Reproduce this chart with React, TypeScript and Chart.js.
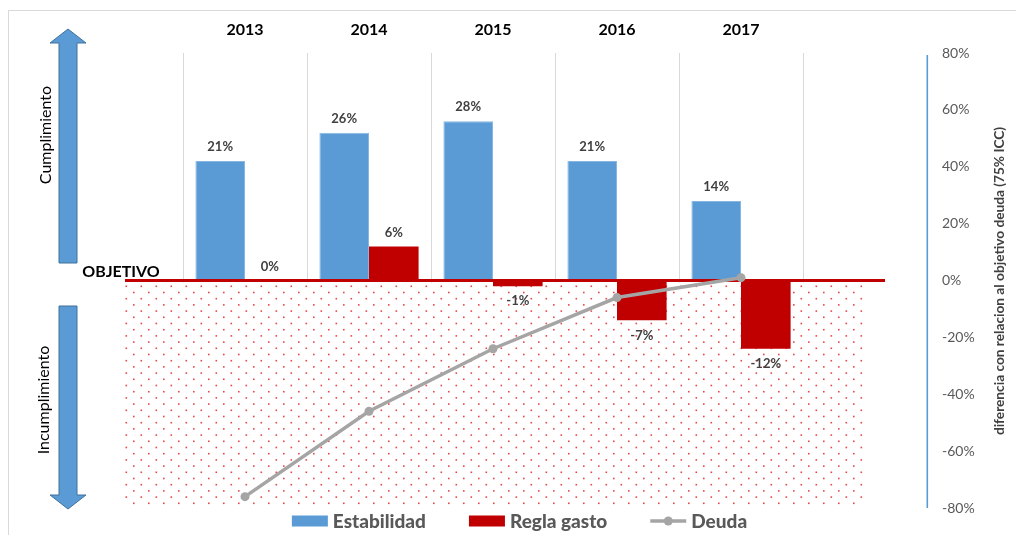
import React, { useEffect, useRef } from 'react';
import { Chart, registerables } from 'chart.js';
Chart.register(...registerables);

const years = ['2013', '2014', '2015', '2016', '2017', ''];
const estabilidad: (number | null)[] = [21, 26, 28, 21, 14, null];
const reglaGasto: (number | null)[] = [0, 6, -1, -7, -12, null];
const deuda: (number | null)[] = [-76, -46, -24, -6, 1, null];
const seriesNames = ['Estabilidad', 'Regla gasto', 'Deuda'];
const rightAxisTitle = 'diferencia con relacion al objetivo deuda (75% ICC)';

const FONT = 'Lato, "Open Sans", sans-serif';
const BLUE = '#5b9bd5';
const RED = '#c00000';
const GRAY = '#a5a5a5';

const decorPlugin = {
  id: 'decor',
  beforeDraw(chart: any) {
    const ctx = chart.ctx;
    ctx.save();
    ctx.fillStyle = '#ffffff';
    ctx.fillRect(0, 0, chart.width, chart.height);
    ctx.strokeStyle = '#d9d9d9';
    ctx.lineWidth = 1;
    ctx.strokeRect(8.5, 10.5, chart.width + 20, chart.height + 20);
    ctx.restore();
  },
  beforeDatasetsDraw(chart: any) {
    const ctx = chart.ctx;
    const x = chart.scales.x;
    const y1 = chart.scales.y1;
    const zero = y1.getPixelForValue(0);
    const left = x.getPixelForValue(0) - 120;
    const right = x.getPixelForValue(5);
    const bottom = chart.chartArea.bottom;
    ctx.save();
    ctx.fillStyle = '#ffffff';
    ctx.fillRect(left, zero + 2, right - left, bottom - zero - 2);
    ctx.fillStyle = 'rgba(226,40,40,0.85)';
    let row = 0;
    for (let yy = zero + 5; yy < bottom; yy += 6.2, row++) {
      const off = row % 2 === 0 ? 0.5 : 8;
      for (let xx = left + off; xx < right; xx += 15) {
        ctx.fillRect(xx, yy, 1.6, 1.6);
      }
    }
    ctx.restore();
  },
  beforeDatasetDraw(chart: any, args: any) {
    if (args.index !== 2) return;
    const ctx = chart.ctx;
    const x = chart.scales.x;
    const zero = chart.scales.y1.getPixelForValue(0);
    ctx.save();
    ctx.strokeStyle = RED;
    ctx.lineWidth = 3;
    ctx.beginPath();
    ctx.moveTo(x.getPixelForValue(0) - 120, zero);
    ctx.lineTo(x.getPixelForValue(5) + 20, zero);
    ctx.stroke();
    ctx.restore();
  },
  afterDatasetsDraw(chart: any) {
    const ctx = chart.ctx;
    ctx.save();
    ctx.font = `bold 13px ${FONT}`;
    ctx.fillStyle = '#404040';
    ctx.textAlign = 'center';
    ctx.textBaseline = 'middle';
    [0, 1].forEach((di) => {
      const meta = chart.getDatasetMeta(di);
      const data = chart.data.datasets[di].data;
      meta.data.forEach((el: any, i: number) => {
        const v = data[i];
        if (v === null || v === undefined) return;
        const yy = v >= 0 ? el.y - 14 : el.y + 15;
        ctx.fillText(v + '%', el.x, yy);
      });
    });
    ctx.restore();
  },
  afterDraw(chart: any) {
    const ctx = chart.ctx;
    const area = chart.chartArea;
    ctx.save();
    // right axis line
    ctx.fillStyle = '#ffffff';
    ctx.fillRect(Math.round(area.right) - 1, area.top, 3, area.bottom - area.top);
    ctx.fillStyle = BLUE;
    ctx.fillRect(Math.round(area.right) - 0.5, area.top + 2, 1.6, area.bottom - area.top - 2);

    // arrows
    const arrow = (pts: number[][]) => {
      ctx.beginPath();
      pts.forEach((p, i) => (i === 0 ? ctx.moveTo(p[0], p[1]) : ctx.lineTo(p[0], p[1])));
      ctx.closePath();
      ctx.fillStyle = BLUE;
      ctx.fill();
      ctx.strokeStyle = '#41719c';
      ctx.lineWidth = 1;
      ctx.stroke();
    };
    arrow([[68, 29], [86, 43], [77, 43], [77, 263], [59, 263], [59, 43], [50, 43]]);
    arrow([[68, 509], [86, 495], [77, 495], [77, 306], [59, 306], [59, 495], [50, 495]]);

    ctx.fillStyle = '#000000';
    ctx.textAlign = 'center';
    ctx.textBaseline = 'middle';
    ctx.font = `16px ${FONT}`;
    ctx.save();
    ctx.translate(46, 135);
    ctx.rotate(-Math.PI / 2);
    ctx.fillText('Cumplimiento', 0, 0);
    ctx.restore();
    ctx.save();
    ctx.translate(44, 400);
    ctx.rotate(-Math.PI / 2);
    ctx.fillText('Incumplimiento', 0, 0);
    ctx.restore();

    ctx.font = `bold 16px ${FONT}`;
    ctx.fillText('OBJETIVO', 121, 272);

    // right axis title
    ctx.font = `bold 13.7px ${FONT}`;
    ctx.fillStyle = '#404040';
    ctx.save();
    ctx.translate(1000, 281);
    ctx.rotate(-Math.PI / 2);
    ctx.fillText(rightAxisTitle, 0, 0);
    ctx.restore();

    // legend
    ctx.font = `900 19px ${FONT}`;
    ctx.textAlign = 'left';
    const yc = 521;
    const boxW = 36;
    const gapBox = 5;
    const gapItem = 43;
    const widths = seriesNames.map((n) => ctx.measureText(n).width);
    const total = widths.reduce((a, b) => a + b, 0) + 3 * (boxW + gapBox) + 2 * gapItem;
    let xx = 519.5 - total / 2;
    seriesNames.forEach((name, i) => {
      if (i < 2) {
        ctx.fillStyle = i === 0 ? BLUE : RED;
        ctx.fillRect(xx, yc - 5.5, boxW, 11);
      } else {
        ctx.strokeStyle = GRAY;
        ctx.lineWidth = 3.5;
        ctx.beginPath();
        ctx.moveTo(xx, yc);
        ctx.lineTo(xx + boxW, yc);
        ctx.stroke();
        ctx.fillStyle = GRAY;
        ctx.beginPath();
        ctx.arc(xx + boxW / 2, yc, 4.5, 0, Math.PI * 2);
        ctx.fill();
      }
      xx += boxW + gapBox;
      ctx.fillStyle = '#595959';
      ctx.fillText(name, xx, yc + 1);
      xx += widths[i] + gapItem;
    });
    ctx.restore();
  },
};

export default function App() {
  const ref = useRef<HTMLCanvasElement | null>(null);
  useEffect(() => {
    if (!ref.current) return;
    const chart = new Chart(ref.current, {
      type: 'bar',
      data: {
        labels: years,
        datasets: [
          {
            type: 'bar',
            label: seriesNames[0],
            data: estabilidad,
            backgroundColor: BLUE,
            borderColor: '#86b6e3',
            borderWidth: 1,
            yAxisID: 'y',
            order: 2,
            categoryPercentage: 0.8,
            barPercentage: 1.0,
          },
          {
            type: 'bar',
            label: seriesNames[1],
            data: reglaGasto,
            backgroundColor: RED,
            borderWidth: 0,
            yAxisID: 'y',
            order: 3,
            categoryPercentage: 0.8,
            barPercentage: 1.0,
          },
          {
            type: 'line',
            label: seriesNames[2],
            data: deuda,
            borderColor: GRAY,
            backgroundColor: GRAY,
            borderWidth: 3.5,
            pointRadius: 4.5,
            pointBackgroundColor: GRAY,
            pointBorderWidth: 0,
            yAxisID: 'y1',
            order: 1,
            tension: 0,
          } as any,
        ],
      },
      options: {
        animation: false,
        responsive: true,
        maintainAspectRatio: false,
        layout: { padding: { left: 183, right: 0, top: 0, bottom: 27 } },
        plugins: {
          legend: { display: false },
          tooltip: { enabled: false },
        },
        scales: {
          x: {
            type: 'category',
            position: 'top',
            offset: true,
            grid: { offset: true, color: '#d9d9d9', drawTicks: false, lineWidth: 1 },
            border: { display: false },
            ticks: {
              color: '#000000',
              font: { family: FONT, size: 16, weight: 'bold' },
              padding: 14,
              maxRotation: 0,
              autoSkip: false,
            },
            afterFit: (s: any) => {
              s.height = 53;
            },
          },
          y: {
            display: false,
            min: -40,
            max: 40,
          },
          y1: {
            position: 'right',
            min: -80,
            max: 80,
            grid: { display: false, drawTicks: false },
            border: { display: false },
            ticks: {
              stepSize: 20,
              padding: 15,
              color: '#595959',
              font: { family: FONT, size: 14 },
              callback: (v: any) => v + '%',
            },
            afterFit: (s: any) => {
              s.width = 89;
            },
          },
        },
      } as any,
      plugins: [decorPlugin],
    });
    return () => chart.destroy();
  }, []);
  return (
    <div style={{ position: 'absolute', left: 0, top: 0, width: 1016, height: 535 }}>
      <canvas ref={ref} />
    </div>
  );
}
